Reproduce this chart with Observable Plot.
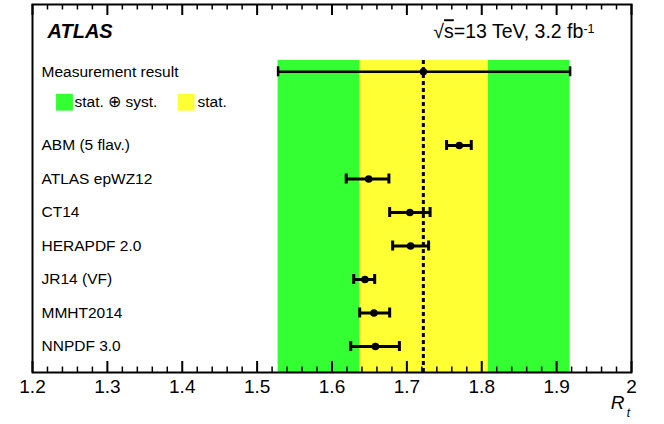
<!DOCTYPE html>
<html><head><meta charset="utf-8">
<script src="https://cdn.jsdelivr.net/npm/d3@7"></script>
<script src="https://cdn.jsdelivr.net/npm/@observablehq/plot@0.6"></script>
<style>body{margin:0;background:#fff}#chart svg{display:block}</style>
</head><body><div id="chart"></div>
<script>
// ---- data ----
const categories = ["ABM (5 flav.)", "ATLAS epWZ12", "CT14", "HERAPDF 2.0", "JR14 (VF)", "MMHT2014", "NNPDF 3.0"];
const predicted = [1.770, 1.649, 1.704, 1.705, 1.644, 1.656, 1.658];
const predLow   = [1.753, 1.619, 1.677, 1.681, 1.629, 1.637, 1.625];
const predHigh  = [1.786, 1.676, 1.731, 1.729, 1.657, 1.677, 1.690];
const measuredValue = [1.722];
const statBand = [1.637, 1.809];
const totalBand = [1.528, 1.918];
const majorTicks = [1.2, 1.3, 1.4, 1.5, 1.6, 1.7, 1.8, 1.9, 2.0];
const tickLabels = ["1.2", "1.3", "1.4", "1.5", "1.6", "1.7", "1.8", "1.9", "2"];
const measurementLabel = "Measurement result";
const legendLabels = ["stat. \u2295 syst.", "stat."];
const experimentLabel = "ATLAS";
const energyLabel = "\u221As=13 TeV, 3.2 fb-1";
const axisLabel = ["R", "t"];

// ---- layout ----
const W = 664, H = 424;
const M = {top: 4, right: 33, bottom: 52, left: 32};
const plotH = H - M.top - M.bottom;
const rowPx = 33.5;
const yTop = -141 / rowPx;
const yBottom = yTop + plotH / rowPx;
const measRow = yTop + 67.3 / rowPx;
const legendRow = yTop + 97.7 / rowPx;
const bandTop = yTop + 56 / rowPx;
const titleRow = yTop + 27.5 / rowPx;
const capHalf = 5 / rowPx;
const green = "#33ff33", yellow = "#ffff33";
const font = "'Liberation Sans', Arial, Helvetica, sans-serif";

const rows = categories.map((name, i) => ({name, i, v: predicted[i], lo: predLow[i], hi: predHigh[i]}));
const caps = rows.flatMap(r => [{x: r.lo, i: r.i}, {x: r.hi, i: r.i}]);
const meas = [{v: measuredValue[0], lo: totalBand[0], hi: totalBand[1]}];
const minorTicks = d3.range(0, 41).map(k => +(1.2 + k * 0.02).toFixed(2)).filter(t => !majorTicks.some(m => Math.abs(m - t) < 1e-9));

const svg = Plot.plot({
  width: W, height: H,
  marginTop: M.top, marginRight: M.right, marginBottom: M.bottom, marginLeft: M.left,
  style: {fontFamily: font, background: "#fff", color: "#000"},
  x: {domain: [1.2, 2.0], label: null},
  y: {domain: [yBottom, yTop], axis: null},
  marks: [
    Plot.rect([totalBand], {x1: d => d[0], x2: d => d[1], y1: bandTop, y2: yBottom, fill: green}),
    Plot.rect([statBand], {x1: d => d[0], x2: d => d[1], y1: bandTop, y2: yBottom, fill: yellow}),
    Plot.ruleX(measuredValue, {x: d => d, y1: bandTop, y2: yBottom, stroke: "#000", strokeWidth: 3, strokeDasharray: "4,3"}),
    // measurement
    Plot.ruleY(meas, {y: measRow, x1: "lo", x2: "hi", stroke: "#000", strokeWidth: 2.5}),
    Plot.ruleX([meas[0].lo, meas[0].hi], {x: d => d, y1: measRow - capHalf, y2: measRow + capHalf, stroke: "#000", strokeWidth: 2.5}),
    Plot.dot(meas, {x: "v", y: measRow, r: 3.7, fill: "#000"}),
    // predictions
    Plot.ruleY(rows, {y: "i", x1: "lo", x2: "hi", stroke: "#000", strokeWidth: 3}),
    Plot.ruleX(caps, {x: "x", y1: d => d.i - capHalf, y2: d => d.i + capHalf, stroke: "#000", strokeWidth: 3}),
    Plot.dot(rows, {x: "v", y: "i", r: 3.8, fill: "#000"}),
    // labels
    Plot.text(rows, {y: "i", text: "name", frameAnchor: "left", dx: 9, textAnchor: "start", fontSize: 15.5}),
    Plot.text([measurementLabel], {y: measRow, text: d => d, frameAnchor: "left", dx: 9, textAnchor: "start", fontSize: 15.5}),
    // legend
    Plot.dot([0], {y: legendRow, frameAnchor: "left", dx: 32, symbol: "square", r: 9.5, fill: green}),
    Plot.dot([0], {y: legendRow, frameAnchor: "left", dx: 153.7, symbol: "square", r: 9.5, fill: yellow}),
    Plot.text([legendLabels[0]], {y: legendRow, text: d => d, frameAnchor: "left", dx: 42, textAnchor: "start", fontSize: 15.5}),
    Plot.text([legendLabels[1]], {y: legendRow, text: d => d, frameAnchor: "left", dx: 165, textAnchor: "start", fontSize: 15.5}),
    // header texts
    Plot.text([experimentLabel], {y: titleRow, text: d => d, frameAnchor: "left", dx: 15, textAnchor: "start", fontSize: 20, fontWeight: "bold", fontStyle: "italic"}),
    Plot.text([energyLabel], {y: titleRow, text: d => d, frameAnchor: "right", dx: -37, textAnchor: "end", fontSize: 19.5}),
    // frame and ticks
    Plot.frame({stroke: "#000", strokeWidth: 2}),
    Plot.ruleX(minorTicks, {x: d => d, insetTop: plotH - 5.5, stroke: "#000", strokeWidth: 1.5}),
    Plot.ruleX(minorTicks, {x: d => d, insetBottom: plotH - 5.5, stroke: "#000", strokeWidth: 1.5}),
    Plot.ruleX(majorTicks, {x: d => d, insetTop: plotH - 11, stroke: "#000", strokeWidth: 2}),
    Plot.ruleX(majorTicks, {x: d => d, insetBottom: plotH - 11, stroke: "#000", strokeWidth: 2}),
    Plot.axisX(majorTicks, {tickSize: 0, tickPadding: 7, tickFormat: d => tickLabels[majorTicks.indexOf(d)], fontSize: 19, label: null}),
    Plot.text([axisLabel[0]], {text: d => d, frameAnchor: "bottom-right", dx: -7, dy: 36, textAnchor: "end", fontSize: 19, fontStyle: "italic"}),
    Plot.text([axisLabel[1]], {text: d => d, frameAnchor: "bottom-right", dx: -1.5, dy: 44, textAnchor: "end", fontSize: 12, fontStyle: "italic"})
  ]
});

// rich formatting of the energy label (overline and superscript)
d3.select(svg).selectAll("text").filter(function() { return this.textContent === energyLabel; }).each(function() {
  const t = d3.select(this);
  const txt = this.textContent;
  t.text("");
  t.append("tspan").text(txt.slice(0, 1));
  t.append("tspan").style("text-decoration", "overline").text(txt.slice(1, 2));
  t.append("tspan").text(txt.slice(2, txt.length - 2));
  t.append("tspan").attr("dy", "-0.45em").attr("font-size", "12.5px").text(txt.slice(txt.length - 2));
});

document.getElementById("chart").appendChild(svg);
</script></body></html>
